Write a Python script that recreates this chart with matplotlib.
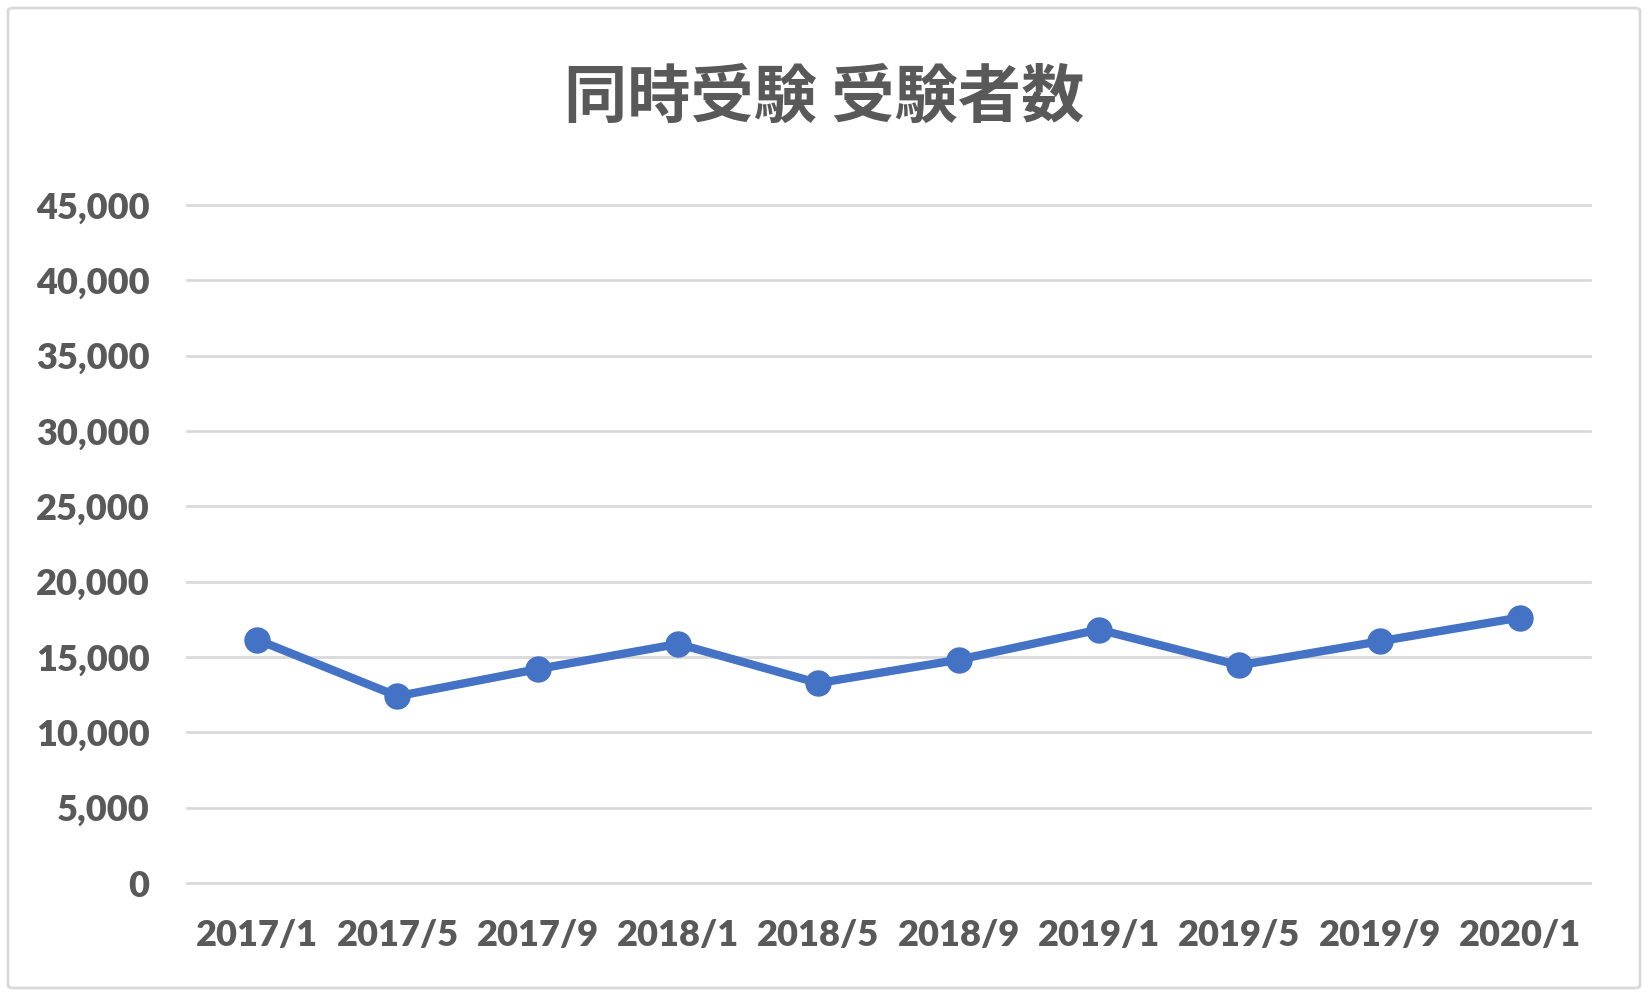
import matplotlib
matplotlib.use("Agg")
import matplotlib.pyplot as plt
from matplotlib.patches import FancyBboxPatch
from matplotlib.ticker import FuncFormatter

categories = ["2017/1", "2017/5", "2017/9", "2018/1", "2018/5",
              "2018/9", "2019/1", "2019/5", "2019/9", "2020/1"]
values = [16150, 12400, 14200, 15870, 13270, 14820, 16820, 14450, 16040, 17620]
yticks = [0, 5000, 10000, 15000, 20000, 25000, 30000, 35000, 40000, 45000]
title = "同時受験 受験者数"

text_color = "#595959"
line_color = "#4472C4"
grid_color = "#D9D9D9"

fig = plt.figure(figsize=(16.48, 9.96), dpi=100)
fig.patch.set_facecolor("white")

# outer border
border = FancyBboxPatch((8 / 1648, 8 / 996), 1632 / 1648, 980 / 996,
                        boxstyle="round,pad=0,rounding_size=0.003",
                        transform=fig.transFigure, fill=False,
                        edgecolor=grid_color, linewidth=2)
fig.patches.append(border)

ax = fig.add_axes([187 / 1648, 1 - 883 / 996, (1590 - 187) / 1648, (883 - 205) / 996])
x = list(range(len(categories)))
ax.plot(x, values, color=line_color, linewidth=6, marker="o", markersize=18,
        markerfacecolor=line_color, markeredgecolor=line_color, zorder=3,
        solid_joinstyle="round")

ax.set_xlim(-0.5, len(categories) - 0.5)
ax.set_ylim(0, 45000)
ax.set_yticks(yticks)
ax.yaxis.set_major_formatter(FuncFormatter(lambda v, p: f"{int(v):,}"))
ax.set_xticks(x)
ax.set_xticklabels(categories)

ax.grid(axis="y", color=grid_color, linewidth=2)
for gl in ax.get_ygridlines():
    gl.set_clip_on(False)
ax.set_axisbelow(True)
for s in ax.spines.values():
    s.set_visible(False)
ax.tick_params(axis="both", length=0, colors=text_color)
ax.tick_params(axis="y", pad=27)
ax.tick_params(axis="x", pad=26)
for lab in ax.get_xticklabels() + ax.get_yticklabels():
    lab.set_fontfamily(["Lato", "DejaVu Sans"])
    lab.set_fontweight("heavy")
    lab.set_fontsize(26)
    lab.set_color(text_color)

fig.text(824 / 1648, 1 - 98 / 996, title, ha="center", va="center",
         fontsize=45.5, fontweight="bold", color=text_color,
         family=["Noto Sans CJK JP", "DejaVu Sans"])

fig.savefig("out.png", dpi=100, facecolor="white")
